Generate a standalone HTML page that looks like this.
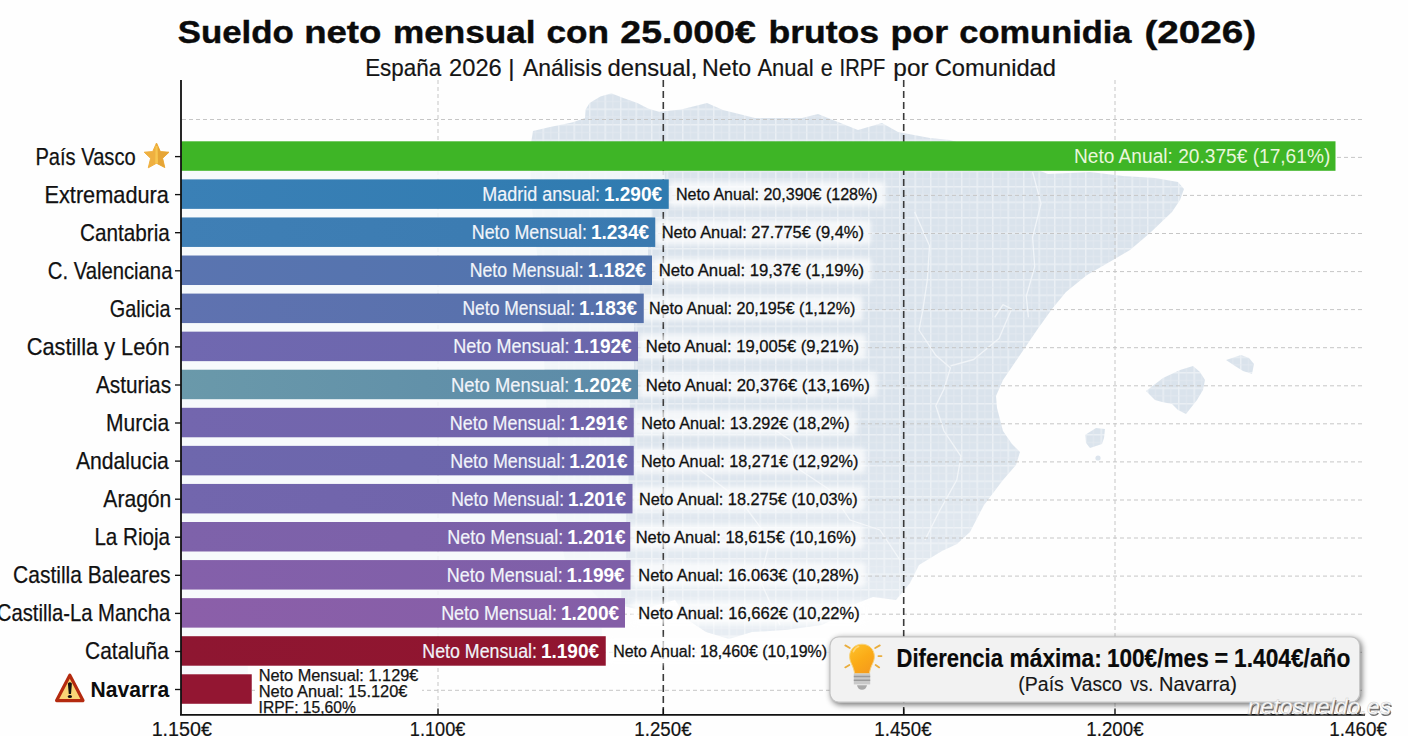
<!DOCTYPE html>
<html><head><meta charset="utf-8"><title>Sueldo neto mensual</title>
<style>
html,body{margin:0;padding:0;background:#fefefe;}
body{width:1408px;height:736px;overflow:hidden;}
svg{display:block;font-family:"Liberation Sans",sans-serif;}
</style></head><body>

<svg width="1408" height="736" viewBox="0 0 1408 736">
<defs>
<pattern id="grid" width="15.5" height="15.5" patternUnits="userSpaceOnUse">
<rect width="15.5" height="15.5" fill="#dae3ec"/>
<path d="M0 0.7H15.5M0.7 0V15.5" stroke="#eaeff4" stroke-width="1.5"/>
<path d="M0 8.4H15.5M8.4 0V15.5" stroke="#e2e9f0" stroke-width="0.8"/>
</pattern>
<filter id="sh" x="-5%" y="-20%" width="110%" height="150%"><feGaussianBlur stdDeviation="3"/></filter>
<filter id="bl" x="-5%" y="-30%" width="110%" height="160%"><feGaussianBlur stdDeviation="2.5"/></filter>
<linearGradient id="mf" x1="0" y1="0" x2="0" y2="1"><stop offset="0" stop-color="#fff"/><stop offset="0.6" stop-color="#fff"/><stop offset="1" stop-color="#999"/></linearGradient>
<mask id="mapfade" maskUnits="userSpaceOnUse" x="500" y="80" width="800" height="580"><rect x="500" y="80" width="800" height="580" fill="url(#mf)"/></mask>
<linearGradient id="bulb" x1="0.2" y1="0" x2="0.8" y2="1"><stop offset="0" stop-color="#fdc02a"/><stop offset="0.5" stop-color="#fbab17"/><stop offset="1" stop-color="#f59a1c"/></linearGradient>
<linearGradient id="g0" x1="0" x2="1" y1="0" y2="0"><stop offset="0" stop-color="#3eb526"/><stop offset="1" stop-color="#3eb526"/></linearGradient>
<linearGradient id="g1" x1="0" x2="1" y1="0" y2="0"><stop offset="0" stop-color="#3a80b6"/><stop offset="1" stop-color="#2f7bb0"/></linearGradient>
<linearGradient id="g2" x1="0" x2="1" y1="0" y2="0"><stop offset="0" stop-color="#3f7fb5"/><stop offset="1" stop-color="#3a7ab0"/></linearGradient>
<linearGradient id="g3" x1="0" x2="1" y1="0" y2="0"><stop offset="0" stop-color="#5a74b0"/><stop offset="1" stop-color="#4f74ad"/></linearGradient>
<linearGradient id="g4" x1="0" x2="1" y1="0" y2="0"><stop offset="0" stop-color="#5f72b0"/><stop offset="1" stop-color="#5571ab"/></linearGradient>
<linearGradient id="g5" x1="0" x2="1" y1="0" y2="0"><stop offset="0" stop-color="#7068b0"/><stop offset="1" stop-color="#6a66ab"/></linearGradient>
<linearGradient id="g6" x1="0" x2="1" y1="0" y2="0"><stop offset="0" stop-color="#6a99aa"/><stop offset="1" stop-color="#5b8aa8"/></linearGradient>
<linearGradient id="g7" x1="0" x2="1" y1="0" y2="0"><stop offset="0" stop-color="#7366ae"/><stop offset="1" stop-color="#7064aa"/></linearGradient>
<linearGradient id="g8" x1="0" x2="1" y1="0" y2="0"><stop offset="0" stop-color="#6e67ad"/><stop offset="1" stop-color="#6a65ab"/></linearGradient>
<linearGradient id="g9" x1="0" x2="1" y1="0" y2="0"><stop offset="0" stop-color="#7266ad"/><stop offset="1" stop-color="#6f63aa"/></linearGradient>
<linearGradient id="g10" x1="0" x2="1" y1="0" y2="0"><stop offset="0" stop-color="#7e62aa"/><stop offset="1" stop-color="#7a60a8"/></linearGradient>
<linearGradient id="g11" x1="0" x2="1" y1="0" y2="0"><stop offset="0" stop-color="#8460aa"/><stop offset="1" stop-color="#7e5fa8"/></linearGradient>
<linearGradient id="g12" x1="0" x2="1" y1="0" y2="0"><stop offset="0" stop-color="#8b5fa9"/><stop offset="1" stop-color="#845ea7"/></linearGradient>
<linearGradient id="g13" x1="0" x2="1" y1="0" y2="0"><stop offset="0" stop-color="#8e1631"/><stop offset="1" stop-color="#91152f"/></linearGradient>
<linearGradient id="g14" x1="0" x2="1" y1="0" y2="0"><stop offset="0" stop-color="#931632"/><stop offset="1" stop-color="#931632"/></linearGradient>
</defs>
<rect width="1408" height="736" fill="#fefefe"/>
<g mask="url(#mapfade)">
<path fill="url(#grid)" d="M533 131L550 127L572 122.6L585 118L585.6 109.6L589.6 103L600.4 96.5L611.3 93.3L622 97.6L637.4 103L648 108.5L659 111.7L681 109.6L707 103L723 110L755 118L802 118L818 114L838 122L858 130L882 123L898 132L930 138L950 140L1000 155L1048 174L1090 172L1123 176L1155 178L1178 182L1184 189L1180 200L1172 212L1150 233L1130 250L1113 260L1087 275L1066 292L1052 309L1037 330L1020 355L1003 380L996 396L997 408L1003 431L1012 444L1020 452L1016 465L1003 480L984 505L970 532L957 544L942 551L919 565L910 583L896 600L873 597L850 606L836 618L822 625L785 630L752 632L729 639L706 632L688 620L675 600L640 610L600 600L565 560L550 480L545 380L540 280L531 200L530 150Z"/>
<path fill="url(#grid)" d="M1146 391L1163 378L1180 370L1193 366L1200 372L1205 380L1203 390L1197 400L1186 414L1178 410L1172 404L1162 402L1155 400Z"/>
<path fill="url(#grid)" d="M1226 360L1241 355L1249 358L1254 364L1252 374L1243 371L1235 366Z"/>
<path fill="url(#grid)" d="M1085 435L1096 428L1105 429L1104 438L1102 444L1090 448L1086 443Z"/>
<circle cx="1098" cy="458" r="2.6" fill="#dae3ec"/>
<g fill="none" stroke="#f3f6f9" stroke-width="1.3" stroke-linejoin="round" opacity="0.9">
<path d="M1032.6 172L1041 203.7L1032.6 237.4L1034.7 266.8L1026.3 296.3L1028.4 317.4"/>
<path d="M914.7 212L929.5 245.8L927.4 279.5L923 309L919 330L935.8 355.3L950.5 367.9L944 389L935.8 405.8L944 431L961 456.3L956.8 480L940 510L925 540"/>
<path d="M994.7 317.4L1003 304.7L1011.6 309L999 338.4L973.7 359.5L950.5 365.8"/>
<path d="M760 420L790 440L800 470L830 490L850 520L880 530L900 560"/>
<path d="M700 470L740 500L770 540L760 580L780 625"/>
</g>
</g>
<g stroke="#c6c6c6" stroke-width="1" stroke-dasharray="4 3" fill="none">
<path d="M182 119.5H1364"/>
<path d="M182 157.4H1364"/>
<path d="M182 195.4H1364"/>
<path d="M182 233.5H1364"/>
<path d="M182 271.6H1364"/>
<path d="M182 309.6H1364"/>
<path d="M182 347.7H1364"/>
<path d="M182 385.8H1364"/>
<path d="M182 423.8H1364"/>
<path d="M182 461.9H1364"/>
<path d="M182 500.0H1364"/>
<path d="M182 538.0H1364"/>
<path d="M182 576.1H1364"/>
<path d="M182 614.2H1364"/>
<path d="M182 652.3H1364"/>
<path d="M182 690.3H1364"/>
<path d="M438 80V714"/>
<path d="M1115 80V714"/>
</g>
<g stroke="#3a3a3a" stroke-width="1.6" stroke-dasharray="7 4" fill="none"><path d="M663.3 80V714"/><path d="M903.7 80V714"/></g>
<g fill="#ffffff" opacity="0.72" filter="url(#bl)">
<rect x="669.0" y="181.6" width="215.8" height="25" rx="3"/>
<rect x="655.0" y="219.7" width="216.0" height="25" rx="3"/>
<rect x="652.0" y="257.8" width="219.2" height="25" rx="3"/>
<rect x="642.0" y="295.8" width="220.5" height="25" rx="3"/>
<rect x="639.0" y="333.9" width="227.0" height="25" rx="3"/>
<rect x="639.0" y="372.0" width="237.8" height="25" rx="3"/>
<rect x="634.5" y="410.0" width="222.2" height="25" rx="3"/>
<rect x="634.0" y="448.1" width="231.5" height="25" rx="3"/>
<rect x="632.0" y="486.2" width="232.8" height="25" rx="3"/>
<rect x="628.8" y="524.2" width="234.8" height="25" rx="3"/>
<rect x="631.5" y="562.3" width="234.5" height="25" rx="3"/>
<rect x="631.5" y="600.4" width="235.2" height="25" rx="3"/>
<rect x="606.2" y="638.5" width="228.0" height="25" rx="3"/>
</g>
<g fill="#f6fafc" opacity="0.85">
<rect x="182" y="170.8" width="482.8" height="8.6"/>
<rect x="182" y="208.9" width="469.2" height="8.6"/>
<rect x="182" y="246.9" width="466.0" height="8.6"/>
<rect x="182" y="285.0" width="457.8" height="8.6"/>
<rect x="182" y="323.1" width="452.0" height="8.6"/>
<rect x="182" y="361.1" width="452.0" height="8.6"/>
<rect x="182" y="399.2" width="447.8" height="8.6"/>
<rect x="182" y="437.3" width="447.8" height="8.6"/>
<rect x="182" y="475.4" width="446.5" height="8.6"/>
<rect x="182" y="513.4" width="444.2" height="8.6"/>
<rect x="182" y="551.5" width="444.2" height="8.6"/>
<rect x="182" y="589.6" width="439.0" height="8.6"/>
<rect x="182" y="627.6" width="419.8" height="8.6"/>
<rect x="182" y="665.7" width="65.8" height="8.6"/>
</g>
<rect x="181" y="141.30" width="1154.50" height="29.5" fill="url(#g0)"/>
<rect x="181" y="179.37" width="487.75" height="29.5" fill="url(#g1)"/>
<rect x="181" y="217.44" width="474.25" height="29.5" fill="url(#g2)"/>
<rect x="181" y="255.51" width="471.00" height="29.5" fill="url(#g3)"/>
<rect x="181" y="293.58" width="462.75" height="29.5" fill="url(#g4)"/>
<rect x="181" y="331.65" width="457.00" height="29.5" fill="url(#g5)"/>
<rect x="181" y="369.72" width="457.00" height="29.5" fill="url(#g6)"/>
<rect x="181" y="407.79" width="452.75" height="29.5" fill="url(#g7)"/>
<rect x="181" y="445.86" width="452.75" height="29.5" fill="url(#g8)"/>
<rect x="181" y="483.93" width="451.50" height="29.5" fill="url(#g9)"/>
<rect x="181" y="522.00" width="449.25" height="29.5" fill="url(#g10)"/>
<rect x="181" y="560.07" width="449.50" height="29.5" fill="url(#g11)"/>
<rect x="181" y="598.14" width="444.00" height="29.5" fill="url(#g12)"/>
<rect x="181" y="636.21" width="424.75" height="29.5" fill="url(#g13)"/>
<rect x="181" y="674.28" width="70.75" height="29.5" fill="url(#g14)"/>
<rect x="255" y="666" width="167" height="47.5" fill="#fefefe"/>
<path d="M181 80V715.5M180 714.8H1365" stroke="#111" stroke-width="1.8" fill="none"/>
<g stroke="#111" stroke-width="1.35">
<path d="M175 156.6H181"/>
<path d="M175 194.6H181"/>
<path d="M175 232.7H181"/>
<path d="M175 270.8H181"/>
<path d="M175 308.8H181"/>
<path d="M175 346.9H181"/>
<path d="M175 385.0H181"/>
<path d="M175 423.0H181"/>
<path d="M175 461.1H181"/>
<path d="M175 499.2H181"/>
<path d="M175 537.2H181"/>
<path d="M175 575.3H181"/>
<path d="M175 613.4H181"/>
<path d="M175 651.5H181"/>
<path d="M175 689.5H181"/>
<path d="M438 708.6V715"/>
<path d="M663.3 708.6V715"/>
<path d="M903.7 708.6V715"/>
<path d="M1115 708.6V715"/>
<path d="M1358 708.6V715"/>
</g>
<text x="35.42" y="164.7" textLength="100.22" lengthAdjust="spacingAndGlyphs" font-size="24" fill="#111" stroke="#111" stroke-width="0.25">País Vasco</text>
<text x="44.47" y="202.7" textLength="124.44" lengthAdjust="spacingAndGlyphs" font-size="24" fill="#111" stroke="#111" stroke-width="0.25">Extremadura</text>
<text x="482.36" y="201.1" textLength="117.75" lengthAdjust="spacingAndGlyphs" font-size="19.5" fill="#f1f4fa" stroke="#f1f4fa" stroke-width="0.2">Madrid ansual:</text>
<text x="603.89" y="201.1" textLength="58.29" lengthAdjust="spacingAndGlyphs" font-size="19.5" font-weight="bold" fill="#ffffff">1.290€</text>
<text x="675.91" y="200.1" textLength="201.77" lengthAdjust="spacingAndGlyphs" font-size="16.8" fill="#111" stroke="#111" stroke-width="0.3">Neto Anual: 20,390€ (128%)</text>
<text x="80.12" y="240.7" textLength="89.70" lengthAdjust="spacingAndGlyphs" font-size="24" fill="#111" stroke="#111" stroke-width="0.25">Cantabria</text>
<text x="471.73" y="239.2" textLength="115.23" lengthAdjust="spacingAndGlyphs" font-size="19.5" fill="#f1f4fa" stroke="#f1f4fa" stroke-width="0.2">Neto Mensual:</text>
<text x="590.89" y="239.2" textLength="58.29" lengthAdjust="spacingAndGlyphs" font-size="19.5" font-weight="bold" fill="#ffffff">1.234€</text>
<text x="661.72" y="238.2" textLength="202.18" lengthAdjust="spacingAndGlyphs" font-size="16.8" fill="#111" stroke="#111" stroke-width="0.3">Neto Anual: 27.775€ (9,4%)</text>
<text x="47.76" y="278.7" textLength="124.67" lengthAdjust="spacingAndGlyphs" font-size="24" fill="#111" stroke="#111" stroke-width="0.25">C. Valenciana</text>
<text x="469.77" y="277.3" textLength="113.88" lengthAdjust="spacingAndGlyphs" font-size="19.5" fill="#f1f4fa" stroke="#f1f4fa" stroke-width="0.2">Neto Mensual:</text>
<text x="587.67" y="277.3" textLength="58.29" lengthAdjust="spacingAndGlyphs" font-size="19.5" font-weight="bold" fill="#ffffff">1.182€</text>
<text x="658.63" y="276.3" textLength="205.50" lengthAdjust="spacingAndGlyphs" font-size="16.8" fill="#111" stroke="#111" stroke-width="0.3">Neto Anual: 19,37€ (1,19%)</text>
<text x="109.85" y="316.7" textLength="60.56" lengthAdjust="spacingAndGlyphs" font-size="24" fill="#111" stroke="#111" stroke-width="0.25">Galicia</text>
<text x="462.46" y="315.3" textLength="112.61" lengthAdjust="spacingAndGlyphs" font-size="19.5" fill="#f1f4fa" stroke="#f1f4fa" stroke-width="0.2">Neto Mensual:</text>
<text x="578.89" y="315.3" textLength="58.29" lengthAdjust="spacingAndGlyphs" font-size="19.5" font-weight="bold" fill="#ffffff">1.183€</text>
<text x="648.91" y="314.3" textLength="206.41" lengthAdjust="spacingAndGlyphs" font-size="16.8" fill="#111" stroke="#111" stroke-width="0.3">Neto Anual: 20,195€ (1,12%)</text>
<text x="26.76" y="354.7" textLength="142.77" lengthAdjust="spacingAndGlyphs" font-size="24" fill="#111" stroke="#111" stroke-width="0.25">Castilla y León</text>
<text x="453.28" y="353.4" textLength="116.37" lengthAdjust="spacingAndGlyphs" font-size="19.5" fill="#f1f4fa" stroke="#f1f4fa" stroke-width="0.2">Neto Mensual:</text>
<text x="573.42" y="353.4" textLength="58.30" lengthAdjust="spacingAndGlyphs" font-size="19.5" font-weight="bold" fill="#ffffff">1.192€</text>
<text x="645.67" y="352.4" textLength="213.33" lengthAdjust="spacingAndGlyphs" font-size="16.8" fill="#111" stroke="#111" stroke-width="0.3">Neto Anual: 19,005€ (9,21%)</text>
<text x="95.89" y="392.7" textLength="75.18" lengthAdjust="spacingAndGlyphs" font-size="24" fill="#111" stroke="#111" stroke-width="0.25">Asturias</text>
<text x="451.04" y="391.5" textLength="118.45" lengthAdjust="spacingAndGlyphs" font-size="19.5" fill="#f1f4fa" stroke="#f1f4fa" stroke-width="0.2">Neto Mensual:</text>
<text x="573.42" y="391.5" textLength="58.30" lengthAdjust="spacingAndGlyphs" font-size="19.5" font-weight="bold" fill="#ffffff">1.202€</text>
<text x="645.63" y="390.5" textLength="224.10" lengthAdjust="spacingAndGlyphs" font-size="16.8" fill="#111" stroke="#111" stroke-width="0.3">Neto Anual: 20,376€ (13,16%)</text>
<text x="106.05" y="430.7" textLength="63.06" lengthAdjust="spacingAndGlyphs" font-size="24" fill="#111" stroke="#111" stroke-width="0.25">Murcia</text>
<text x="449.73" y="429.5" textLength="115.70" lengthAdjust="spacingAndGlyphs" font-size="19.5" fill="#f1f4fa" stroke="#f1f4fa" stroke-width="0.2">Neto Mensual:</text>
<text x="569.21" y="429.5" textLength="58.28" lengthAdjust="spacingAndGlyphs" font-size="19.5" font-weight="bold" fill="#ffffff">1.291€</text>
<text x="641.34" y="428.5" textLength="208.35" lengthAdjust="spacingAndGlyphs" font-size="16.8" fill="#111" stroke="#111" stroke-width="0.3">Neto Anual: 13.292€ (18,2%)</text>
<text x="75.89" y="468.7" textLength="93.01" lengthAdjust="spacingAndGlyphs" font-size="24" fill="#111" stroke="#111" stroke-width="0.25">Andalucia</text>
<text x="450.28" y="467.6" textLength="115.15" lengthAdjust="spacingAndGlyphs" font-size="19.5" fill="#f1f4fa" stroke="#f1f4fa" stroke-width="0.2">Neto Mensual:</text>
<text x="569.21" y="467.6" textLength="58.28" lengthAdjust="spacingAndGlyphs" font-size="19.5" font-weight="bold" fill="#ffffff">1.201€</text>
<text x="640.89" y="466.6" textLength="217.48" lengthAdjust="spacingAndGlyphs" font-size="16.8" fill="#111" stroke="#111" stroke-width="0.3">Neto Anual: 18,271€ (12,92%)</text>
<text x="103.36" y="506.7" textLength="67.94" lengthAdjust="spacingAndGlyphs" font-size="24" fill="#111" stroke="#111" stroke-width="0.25">Aragón</text>
<text x="451.21" y="505.7" textLength="112.82" lengthAdjust="spacingAndGlyphs" font-size="19.5" fill="#f1f4fa" stroke="#f1f4fa" stroke-width="0.2">Neto Mensual:</text>
<text x="567.89" y="505.7" textLength="58.29" lengthAdjust="spacingAndGlyphs" font-size="19.5" font-weight="bold" fill="#ffffff">1.201€</text>
<text x="638.88" y="504.7" textLength="218.76" lengthAdjust="spacingAndGlyphs" font-size="16.8" fill="#111" stroke="#111" stroke-width="0.3">Neto Anual: 18.275€ (10,03%)</text>
<text x="94.41" y="544.7" textLength="75.63" lengthAdjust="spacingAndGlyphs" font-size="24" fill="#111" stroke="#111" stroke-width="0.25">La Rioja</text>
<text x="447.28" y="543.8" textLength="116.11" lengthAdjust="spacingAndGlyphs" font-size="19.5" fill="#f1f4fa" stroke="#f1f4fa" stroke-width="0.2">Neto Mensual:</text>
<text x="567.21" y="543.8" textLength="58.28" lengthAdjust="spacingAndGlyphs" font-size="19.5" font-weight="bold" fill="#ffffff">1.201€</text>
<text x="635.68" y="542.8" textLength="220.64" lengthAdjust="spacingAndGlyphs" font-size="16.8" fill="#111" stroke="#111" stroke-width="0.3">Neto Anual: 18,615€ (10,16%)</text>
<text x="13.12" y="582.7" textLength="157.47" lengthAdjust="spacingAndGlyphs" font-size="24" fill="#111" stroke="#111" stroke-width="0.25">Castilla Baleares</text>
<text x="446.72" y="581.8" textLength="115.98" lengthAdjust="spacingAndGlyphs" font-size="19.5" fill="#f1f4fa" stroke="#f1f4fa" stroke-width="0.2">Neto Mensual:</text>
<text x="566.42" y="581.8" textLength="58.30" lengthAdjust="spacingAndGlyphs" font-size="19.5" font-weight="bold" fill="#ffffff">1.199€</text>
<text x="638.30" y="580.8" textLength="220.60" lengthAdjust="spacingAndGlyphs" font-size="16.8" fill="#111" stroke="#111" stroke-width="0.3">Neto Anual: 16.063€ (10,28%)</text>
<text x="-3.22" y="620.7" textLength="173.40" lengthAdjust="spacingAndGlyphs" font-size="24" fill="#111" stroke="#111" stroke-width="0.25">Castilla-La Mancha</text>
<text x="441.13" y="619.9" textLength="115.98" lengthAdjust="spacingAndGlyphs" font-size="19.5" fill="#f1f4fa" stroke="#f1f4fa" stroke-width="0.2">Neto Mensual:</text>
<text x="560.89" y="619.9" textLength="58.29" lengthAdjust="spacingAndGlyphs" font-size="19.5" font-weight="bold" fill="#ffffff">1.200€</text>
<text x="638.26" y="618.9" textLength="221.40" lengthAdjust="spacingAndGlyphs" font-size="16.8" fill="#111" stroke="#111" stroke-width="0.3">Neto Anual: 16,662€ (10,22%)</text>
<text x="85.11" y="658.7" textLength="83.68" lengthAdjust="spacingAndGlyphs" font-size="24" fill="#111" stroke="#111" stroke-width="0.25">Cataluña</text>
<text x="422.37" y="658.0" textLength="114.61" lengthAdjust="spacingAndGlyphs" font-size="19.5" fill="#f1f4fa" stroke="#f1f4fa" stroke-width="0.2">Neto Mensual:</text>
<text x="540.89" y="658.0" textLength="58.29" lengthAdjust="spacingAndGlyphs" font-size="19.5" font-weight="bold" fill="#ffffff">1.190€</text>
<text x="613.13" y="657.0" textLength="213.90" lengthAdjust="spacingAndGlyphs" font-size="16.8" fill="#111" stroke="#111" stroke-width="0.3">Neto Anual: 18,460€ (10,19%)</text>
<text x="90.59" y="696.8" textLength="78.54" lengthAdjust="spacingAndGlyphs" font-size="21.8" font-weight="bold" fill="#0c0c0c">Navarra</text>
<text x="1073.95" y="163.2" textLength="256.32" lengthAdjust="spacingAndGlyphs" font-size="20" fill="#e9f7dc">Neto Anual: 20.375€ (17,61%)</text>
<text x="258.66" y="680.5" textLength="159.72" lengthAdjust="spacingAndGlyphs" font-size="15.8" fill="#141414" stroke="#141414" stroke-width="0.25">Neto Mensual: 1.129€</text>
<text x="258.65" y="697.0" textLength="148.84" lengthAdjust="spacingAndGlyphs" font-size="15.8" fill="#141414" stroke="#141414" stroke-width="0.25">Neto Anual: 15.120€</text>
<text x="258.54" y="713.3" textLength="97.38" lengthAdjust="spacingAndGlyphs" font-size="15.8" fill="#141414" stroke="#141414" stroke-width="0.25">IRPF: 15,60%</text>
<text x="151.68" y="736.0" textLength="60.23" lengthAdjust="spacingAndGlyphs" font-size="20.5" fill="#141414" stroke="#141414" stroke-width="0.2">1.150€</text>
<text x="409.86" y="736.0" textLength="55.59" lengthAdjust="spacingAndGlyphs" font-size="20.5" fill="#141414" stroke="#141414" stroke-width="0.2">1.100€</text>
<text x="634.37" y="736.0" textLength="57.22" lengthAdjust="spacingAndGlyphs" font-size="20.5" fill="#141414" stroke="#141414" stroke-width="0.2">1.250€</text>
<text x="874.37" y="736.0" textLength="57.22" lengthAdjust="spacingAndGlyphs" font-size="20.5" fill="#141414" stroke="#141414" stroke-width="0.2">1.450€</text>
<text x="1086.37" y="736.0" textLength="57.22" lengthAdjust="spacingAndGlyphs" font-size="20.5" fill="#141414" stroke="#141414" stroke-width="0.2">1.200€</text>
<text x="1329.29" y="736.0" textLength="57.58" lengthAdjust="spacingAndGlyphs" font-size="20.5" fill="#141414" stroke="#141414" stroke-width="0.2">1.460€</text>
<text x="177.71" y="43.0" textLength="116.10" lengthAdjust="spacingAndGlyphs" font-size="31.5" font-weight="bold" fill="#0b0b0b" stroke="#0b0b0b" stroke-width="0.4">Sueldo</text>
<text x="304.15" y="43.0" textLength="77.28" lengthAdjust="spacingAndGlyphs" font-size="31.5" font-weight="bold" fill="#0b0b0b" stroke="#0b0b0b" stroke-width="0.4">neto</text>
<text x="392.99" y="43.0" textLength="142.49" lengthAdjust="spacingAndGlyphs" font-size="31.5" font-weight="bold" fill="#0b0b0b" stroke="#0b0b0b" stroke-width="0.4">mensual</text>
<text x="546.40" y="43.0" textLength="62.58" lengthAdjust="spacingAndGlyphs" font-size="31.5" font-weight="bold" fill="#0b0b0b" stroke="#0b0b0b" stroke-width="0.4">con</text>
<text x="620.38" y="43.0" textLength="135.36" lengthAdjust="spacingAndGlyphs" font-size="31.5" font-weight="bold" fill="#0b0b0b" stroke="#0b0b0b" stroke-width="0.4">25.000€</text>
<text x="768.46" y="43.0" textLength="110.67" lengthAdjust="spacingAndGlyphs" font-size="31.5" font-weight="bold" fill="#0b0b0b" stroke="#0b0b0b" stroke-width="0.4">brutos</text>
<text x="890.41" y="43.0" textLength="57.74" lengthAdjust="spacingAndGlyphs" font-size="31.5" font-weight="bold" fill="#0b0b0b" stroke="#0b0b0b" stroke-width="0.4">por</text>
<text x="959.37" y="43.0" textLength="172.08" lengthAdjust="spacingAndGlyphs" font-size="31.5" font-weight="bold" fill="#0b0b0b" stroke="#0b0b0b" stroke-width="0.4">comunidia</text>
<text x="1144.40" y="43.0" textLength="111.82" lengthAdjust="spacingAndGlyphs" font-size="31.5" font-weight="bold" fill="#0b0b0b" stroke="#0b0b0b" stroke-width="0.4">(2026)</text>
<text x="365.14" y="76.4" textLength="75.99" lengthAdjust="spacingAndGlyphs" font-size="24" fill="#141414" stroke="#141414" stroke-width="0.2">España</text>
<text x="449.11" y="76.4" textLength="52.60" lengthAdjust="spacingAndGlyphs" font-size="24" fill="#141414" stroke="#141414" stroke-width="0.2">2026</text>
<text x="508.20" y="76.4" font-size="24" fill="#141414" stroke="#141414" stroke-width="0.2">|</text>
<text x="522.90" y="76.4" textLength="79.00" lengthAdjust="spacingAndGlyphs" font-size="24" fill="#141414" stroke="#141414" stroke-width="0.2">Análisis</text>
<text x="607.44" y="76.4" textLength="90.02" lengthAdjust="spacingAndGlyphs" font-size="24" fill="#141414" stroke="#141414" stroke-width="0.2">densual,</text>
<text x="702.12" y="76.4" textLength="48.91" lengthAdjust="spacingAndGlyphs" font-size="24" fill="#141414" stroke="#141414" stroke-width="0.2">Neto</text>
<text x="757.44" y="76.4" textLength="56.09" lengthAdjust="spacingAndGlyphs" font-size="24" fill="#141414" stroke="#141414" stroke-width="0.2">Anual</text>
<text x="820.82" y="76.4" textLength="11.94" lengthAdjust="spacingAndGlyphs" font-size="24" fill="#141414" stroke="#141414" stroke-width="0.2">e</text>
<text x="839.59" y="76.4" textLength="45.75" lengthAdjust="spacingAndGlyphs" font-size="24" fill="#141414" stroke="#141414" stroke-width="0.2">IRPF</text>
<text x="893.38" y="76.4" textLength="35.18" lengthAdjust="spacingAndGlyphs" font-size="24" fill="#141414" stroke="#141414" stroke-width="0.2">por</text>
<text x="934.75" y="76.4" textLength="121.24" lengthAdjust="spacingAndGlyphs" font-size="24" fill="#141414" stroke="#141414" stroke-width="0.2">Comunidad</text>
<g>
<path d="M156.5 143L160.4 151.6L169 152.2L162.6 158.3L164.8 167.6L156.5 163.2L148.3 167.8L150.6 158.3L144.2 152.2L152.7 151.6Z" fill="#efb040" stroke="#efb040" stroke-width="1" stroke-linejoin="round"/>
<path d="M156.5 143L160.4 151.6L169 152.2L162.6 158.3L164.8 167.6L156.5 163.2Z" fill="#e6a536"/>
<path d="M155.6 146L157.6 146L158 163.4L155.2 163.4Z" fill="#f7c650"/>
</g>
<g>
<path d="M69.8 675.2L83 700.6H56.6Z" fill="#f9d676" stroke="#b42a0f" stroke-width="3.2" stroke-linejoin="round"/>
<path d="M67.9 683.4Q69.9 681.2 71.9 683.4L71 693.9H68.8Z" fill="#111"/>
<ellipse cx="69.9" cy="696.5" rx="2.1" ry="1.6" fill="#111"/>
</g>
<g>
<rect x="831.5" y="638.5" width="530" height="66" rx="9" fill="#000" opacity="0.6" filter="url(#sh)"/>
<rect x="830" y="636.8" width="529.8" height="65.4" rx="9" fill="#f2f2f2" stroke="#c4c4c4" stroke-width="1.2"/>
<g stroke="#e9ad3c" stroke-width="1.8" stroke-linecap="round">
<path d="M845.3 645.4L849.8 648"/><path d="M875.2 648L879.8 645.4"/><path d="M878.4 656.1H881.5"/><path d="M845.2 667.4L849.4 664.9"/><path d="M875.6 664.9L879.2 667.4"/>
</g>
<path d="M862 644.2C854.6 644.2 849.6 649.8 849.6 656.4C849.6 662.4 853.6 665.6 854.6 673.6H869.4C870.4 665.6 874.4 662.4 874.4 656.4C874.4 649.8 869.4 644.2 862 644.2Z" fill="url(#bulb)" stroke="#f8d27a" stroke-width="1"/>
<path d="M853.4 651.6Q855.2 647.6 858.6 646.6" stroke="#ffd98a" stroke-width="1.6" fill="none" stroke-linecap="round" opacity="0.8"/>
<rect x="853.8" y="673.4" width="16.4" height="11" fill="#c9c9c9"/>
<path d="M853.8 676.6H870.2M853.8 680.2H870.2" stroke="#9a9a9a" stroke-width="1.5"/>
<path d="M857 685.2H867Q866 689.8 862 689.8Q858 689.8 857 685.2Z" fill="#a9a9a9"/>
</g>
<text x="896.62" y="666.9" textLength="106.32" lengthAdjust="spacingAndGlyphs" font-size="25" font-weight="bold" fill="#0a0a0a" stroke="#0a0a0a" stroke-width="0.2">Diferencia</text>
<text x="1009.60" y="666.9" textLength="92.11" lengthAdjust="spacingAndGlyphs" font-size="25" font-weight="bold" fill="#0a0a0a" stroke="#0a0a0a" stroke-width="0.2">máxima:</text>
<text x="1106.90" y="666.9" textLength="101.83" lengthAdjust="spacingAndGlyphs" font-size="25" font-weight="bold" fill="#0a0a0a" stroke="#0a0a0a" stroke-width="0.2">100€/mes</text>
<text x="1214.46" y="666.9" textLength="13.70" lengthAdjust="spacingAndGlyphs" font-size="25" font-weight="bold" fill="#0a0a0a" stroke="#0a0a0a" stroke-width="0.2">=</text>
<text x="1234.03" y="666.9" textLength="116.29" lengthAdjust="spacingAndGlyphs" font-size="25" font-weight="bold" fill="#0a0a0a" stroke="#0a0a0a" stroke-width="0.2">1.404€/año</text>
<text x="1018.33" y="691.2" textLength="45.49" lengthAdjust="spacingAndGlyphs" font-size="20.5" fill="#161616" stroke="#161616" stroke-width="0.15">(País</text>
<text x="1070.51" y="691.2" textLength="51.68" lengthAdjust="spacingAndGlyphs" font-size="20.5" fill="#161616" stroke="#161616" stroke-width="0.15">Vasco</text>
<text x="1130.34" y="691.2" textLength="22.80" lengthAdjust="spacingAndGlyphs" font-size="20.5" fill="#161616" stroke="#161616" stroke-width="0.15">vs.</text>
<text x="1159.00" y="691.2" textLength="77.91" lengthAdjust="spacingAndGlyphs" font-size="20.5" fill="#161616" stroke="#161616" stroke-width="0.15">Navarra)</text>
<g font-size="22" font-style="italic">
<text x="1248.9" y="715.5" fill="#5a5a5a" opacity="0.85" textLength="143.6" lengthAdjust="spacingAndGlyphs">netosueldo.es</text>
<text x="1247.6" y="714.4" fill="#ffffff" stroke="#cfcfcf" stroke-width="0.5" textLength="143.6" lengthAdjust="spacingAndGlyphs">netosueldo.es</text>
</g>
</svg></body></html>
